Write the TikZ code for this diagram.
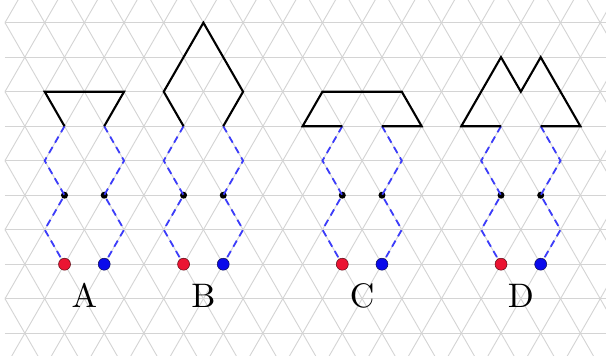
\documentclass[tikz,border=0pt]{standalone}
\usepackage{fontspec}
\newfontfamily\labfont{lmroman10-regular.otf}
\begin{document}
\begin{tikzpicture}[x=19.84pt,y=-34.5pt,
  gridline/.style={draw={rgb,255:red,212;green,212;blue,212},line width=0.9pt},
  shapeline/.style={draw=black,line width=2.1pt,line join=miter},
  path/.style={draw={rgb,255:red,60;green,60;blue,250},line width=1.8pt,dash pattern=on 7pt off 5pt},
  joint/.style={circle,fill=black,inner sep=0pt,minimum size=7pt},
  redend/.style={circle,fill={rgb,255:red,235;green,20;blue,50},draw={rgb,255:red,90;green,10;blue,20},line width=0.5pt,inner sep=0pt,minimum size=12pt},
  blueend/.style={circle,fill={rgb,255:red,10;green,10;blue,235},draw={rgb,255:red,10;green,10;blue,80},line width=0.5pt,inner sep=0pt,minimum size=12pt},
  letter/.style={font=\labfont\fontsize{34}{34}\selectfont,anchor=base}]
\useasboundingbox (-0.252,-0.658) rectangle (30.292,9.632);
\fill[white] (-0.252,-0.658) rectangle (30.292,9.632);
\begin{scope}
\clip (0,-0.658) rectangle (30.292,9.632);
\foreach \j in {0,...,9} \draw[gridline] (0,\j) -- (30.4,\j);
\foreach \k in {-6,...,16} \draw[gridline] ({2*\k-1},-1) -- ({2*\k+11},11);
\foreach \k in {0,...,21} \draw[gridline] ({2*\k+1},-1) -- ({2*\k-11},11);
\end{scope}
% four figures: base offset b, left foot at b+3, right foot at b+5
\foreach \b/\lab/\nm in {0/A/a,6/B/b,14/C/c,22/D/d}{
  \coordinate (\nm L3) at ({\b+3},3);
  \coordinate (\nm L4) at ({\b+2},4);
  \coordinate (\nm L6) at ({\b+2},6);
  \coordinate (\nm R3) at ({\b+5},3);
  \coordinate (\nm R4) at ({\b+6},4);
  \coordinate (\nm R6) at ({\b+6},6);
  \node[joint] (\nm L5) at ({\b+3},5) {};
  \node[joint] (\nm R5) at ({\b+5},5) {};
  \draw[path] (\nm L3) -- (\nm L4) -- (\nm L5.center) -- (\nm L6) -- ({\b+3},7);
  \draw[path] (\nm R3) -- (\nm R4) -- (\nm R5.center) -- (\nm R6) -- ({\b+5},7);
  \node[redend] (\nm red) at ({\b+3},7) {};
  \node[blueend] (\nm blue) at ({\b+5},7) {};
  \node[letter] (\nm lab) at ({\b+4},8.25) {\lab};
}
% shape A
\coordinate (a1) at (2,2); \coordinate (a2) at (6,2);
\draw[shapeline] (aL3) -- (a1) -- (a2) -- (aR3);
% shape B
\coordinate (b1) at (8,2); \coordinate (b2) at (10,0); \coordinate (b3) at (12,2);
\draw[shapeline] (bL3) -- (b1) -- (b2) -- (b3) -- (bR3);
% shape C
\coordinate (c1) at (15,3); \coordinate (c2) at (16,2); \coordinate (c3) at (20,2); \coordinate (c4) at (21,3);
\draw[shapeline] (cL3) -- (c1) -- (c2) -- (c3) -- (c4) -- (cR3);
% shape D
\coordinate (d1) at (23,3); \coordinate (d2) at (25,1); \coordinate (d3) at (26,2); \coordinate (d4) at (27,1); \coordinate (d5) at (29,3);
\draw[shapeline] (dL3) -- (d1) -- (d2) -- (d3) -- (d4) -- (d5) -- (dR3);
\end{tikzpicture}
\end{document}
